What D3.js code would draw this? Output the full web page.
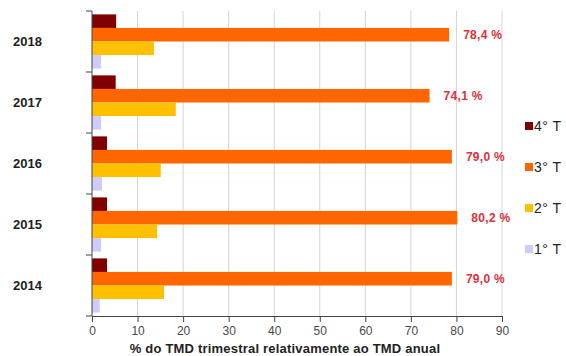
<!DOCTYPE html>
<html>
<head>
<meta charset="utf-8">
<script src="https://cdn.jsdelivr.net/npm/d3@7"></script>
<style>
  html, body { margin: 0; padding: 0; background: #fff; }
  svg { display: block; font-family: Arial, "Liberation Sans", sans-serif; }
</style>
</head>
<body>
<svg id="chart" width="566" height="356"></svg>
<script>
// Anos (de cima para baixo) e trimestres (ordem dentro de cada ano)
const years = ["2018", "2017", "2016", "2015", "2014"];
const quarters = ["4° T", "3° T", "2° T", "1° T"];

// % do TMD trimestral relativamente ao TMD anual, por ano
const q4 = [5.3, 5.2, 3.3, 3.3, 3.3];
const q3 = [78.4, 74.1, 79.0, 80.2, 79.0];
const q2 = [13.6, 18.4, 15.1, 14.3, 15.8];
const q1 = [2.0, 2.0, 2.2, 2.0, 1.7];

const xTicks = [0, 10, 20, 30, 40, 50, 60, 70, 80, 90];
const axisTitle = "% do TMD trimestral relativamente ao TMD anual";

const colors = {
  "4° T": "#800000",
  "3° T": "#FF6600",
  "2° T": "#FFC000",
  "1° T": "#CCCCFF"
};

const seriesByQuarter = { "4° T": q4, "3° T": q3, "2° T": q2, "1° T": q1 };

const svg = d3.select("#chart");

const x = d3.scaleLinear().domain([0, 90]).range([92, 502]);
const y = d3.scaleBand().domain(years).range([11, 316]).paddingInner(0).paddingOuter(0);
const yq = d3.scaleBand().domain(quarters).range([0, y.bandwidth()]).paddingInner(0).paddingOuter(0.25);

// Linhas de grelha verticais
svg.append("g")
  .selectAll("line")
  .data(xTicks.filter(d => d > 0))
  .join("line")
  .attr("x1", d => x(d)).attr("x2", d => x(d))
  .attr("y1", 11).attr("y2", 316)
  .attr("stroke", "#d4d4d4")
  .attr("stroke-width", 1);

// Barras
const groups = svg.append("g")
  .selectAll("g")
  .data(years)
  .join("g")
  .attr("transform", d => `translate(0,${y(d)})`);

groups.selectAll("rect")
  .data((yr, i) => quarters.map(q => ({ q, v: seriesByQuarter[q][i] })))
  .join("rect")
  .attr("x", x(0))
  .attr("y", d => yq(d.q))
  .attr("width", d => x(d.v) - x(0))
  .attr("height", yq.bandwidth())
  .attr("fill", d => colors[d.q]);

// Rótulos de valor do 3° T
groups.append("text")
  .datum((yr, i) => q3[i])
  .attr("x", d => x(d) + 14)
  .attr("y", yq("3° T") + yq.bandwidth() / 2)
  .attr("dy", "0.36em")
  .attr("fill", "#E0303A")
  .attr("font-weight", "bold")
  .attr("font-size", 12)
  .attr("letter-spacing", 0.3)
  .text(d => d.toFixed(1).replace(".", ",") + " %");

// Eixo X
const xAxis = svg.append("g")
  .attr("transform", "translate(0,316)")
  .call(d3.axisBottom(x).tickValues(xTicks).tickSize(6).tickPadding(4).tickFormat(d3.format("d")));
xAxis.select(".domain").attr("stroke", "#444");
xAxis.selectAll(".tick line").attr("stroke", "#444");
xAxis.selectAll(".tick text").attr("fill", "#4a4a4a").attr("font-size", 12)
  .attr("font-family", "Arial, 'Liberation Sans', sans-serif");

// Eixo Y (marcas nas fronteiras entre anos)
const yAxis = svg.append("g").attr("transform", `translate(${x(0)},0)`);
yAxis.append("line")
  .attr("x1", 0).attr("x2", 0).attr("y1", 11).attr("y2", 316)
  .attr("stroke", "#444");
const boundaries = years.map(d => y(d)).concat([y(years[years.length - 1]) + y.bandwidth()]);
yAxis.selectAll("line.tk")
  .data(boundaries)
  .join("line")
  .attr("class", "tk")
  .attr("x1", -6).attr("x2", 0)
  .attr("y1", d => d).attr("y2", d => d)
  .attr("stroke", "#444");

// Rótulos dos anos
svg.append("g")
  .selectAll("text")
  .data(years)
  .join("text")
  .attr("x", 13)
  .attr("y", d => y(d) + y.bandwidth() / 2)
  .attr("dy", "0.36em")
  .attr("font-weight", "bold")
  .attr("font-size", 13)
  .attr("fill", "#222")
  .text(d => d);

// Título do eixo X
svg.append("text")
  .attr("x", 285)
  .attr("y", 353)
  .attr("text-anchor", "middle")
  .attr("font-weight", "bold")
  .attr("font-size", 13)
  .attr("letter-spacing", 0.2)
  .attr("fill", "#222")
  .text(axisTitle);

// Legenda
const legend = svg.append("g")
  .selectAll("g")
  .data(quarters)
  .join("g")
  .attr("transform", (d, i) => `translate(525,${126 + i * 41})`);
legend.append("rect")
  .attr("x", 0).attr("y", -4)
  .attr("width", 8).attr("height", 8)
  .attr("fill", d => colors[d]);
legend.append("text")
  .attr("x", 9)
  .attr("y", 0)
  .attr("dy", "0.36em")
  .attr("font-size", 14)
  .attr("letter-spacing", 0.5)
  .attr("fill", "#222")
  .text(d => d);
</script>
</body>
</html>
